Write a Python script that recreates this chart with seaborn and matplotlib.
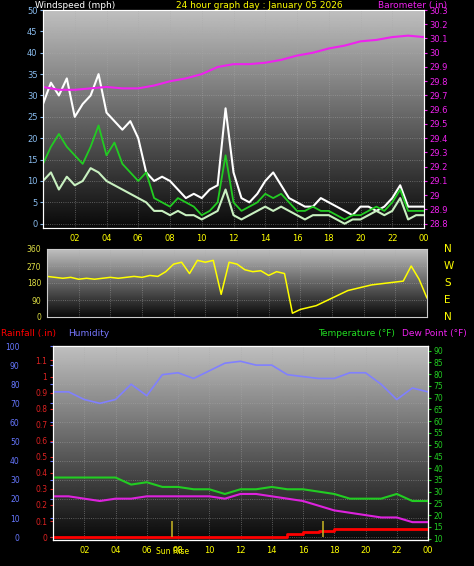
import numpy as np
import pandas as pd
import seaborn as sns
import matplotlib.pyplot as plt

# wind (mph), half-hourly
gust = [28, 33, 30, 34, 25, 28, 30, 35, 26, 24, 22, 24, 20, 12, 10, 11, 10, 8, 6, 7, 6, 8, 9, 27, 12,
        6, 5, 7, 10, 12, 9, 6, 5, 4, 4, 6, 5, 4, 3, 2, 4, 4, 3, 4, 6, 9, 4, 4, 4]
avg = [14, 18, 21, 18, 16, 14, 18, 23, 16, 19, 14, 12, 10, 12, 6, 5, 4, 6, 5, 4, 2, 3, 5, 16, 5,
       3, 4, 5, 7, 6, 7, 5, 3, 3, 4, 3, 3, 2, 1, 2, 2, 3, 4, 3, 5, 8, 3, 3, 3]
speed = [10, 12, 8, 11, 9, 10, 13, 12, 10, 9, 8, 7, 6, 5, 3, 3, 2, 3, 2, 2, 1, 2, 3, 8, 2,
         1, 2, 3, 4, 3, 4, 3, 2, 1, 2, 2, 2, 1, 0, 1, 1, 2, 3, 2, 3, 6, 1, 2, 2]
# barometer (in), hourly
baro = [29.76, 29.74, 29.74, 29.75, 29.76, 29.75, 29.75, 29.77, 29.80, 29.82, 29.85, 29.90, 29.92,
        29.92, 29.93, 29.95, 29.98, 30.00, 30.03, 30.05, 30.08, 30.09, 30.11, 30.12, 30.11]
# wind direction (deg), half-hourly
wdir = [215, 210, 205, 210, 200, 205, 200, 205, 210, 205, 210, 215, 210, 220, 215, 240, 280, 290, 230, 300,
        290, 300, 120, 290, 280, 250, 240, 245, 220, 240, 230, 20, 40, 50, 60, 80, 100, 120, 140, 150,
        160, 170, 175, 180, 185, 190, 270, 200, 100]
# humidity / temperature / dew point / rain, hourly
hum = [76, 76, 72, 70, 72, 80, 74, 85, 86, 83, 87, 91, 92, 90, 90, 85, 84, 83, 83, 86, 86, 80, 72, 78, 76]
temp = [36, 36, 36, 36, 36, 33, 34, 32, 32, 31, 31, 29, 31, 31, 32, 31, 31, 30, 29, 27, 27, 27, 29, 26, 26]
dew = [28, 28, 27, 26, 27, 27, 28, 28, 28, 28, 28, 27, 29, 29, 28, 27, 26, 24, 22, 21, 20, 19, 19, 17, 17]
rain = [0, 0, 0, 0, 0, 0, 0, 0, 0, 0, 0, 0, 0, 0, 0, 0.02, 0.03, 0.04, 0.05, 0.05, 0.05, 0.05, 0.05, 0.05, 0.05]
sunrise, sunset = 7.6, 17.3
hour_labels = ["02", "04", "06", "08", "10", "12", "14", "16", "18", "20", "22", "00"]

sns.set_style("dark")
plt.rcParams['font.family'] = ['DejaVu Sans']
W, H = 474, 566
fig = plt.figure(figsize=(W / 100, H / 100), dpi=100, facecolor="black")


def frame(l, t, r, b):
    return fig.add_axes([l / W, 1 - b / H, (r - l) / W, (b - t) / H])


def style(ax, ticks_x=True):
    grad = np.linspace(1, 0, 256).reshape(-1, 1)
    ax.imshow(grad, aspect="auto", cmap="gray", vmin=-0.05, vmax=1.35,
              extent=[0, 24, *ax.get_ylim()], zorder=0)
    ax.set_xlim(0, 24)
    ax.grid(True, color="#aaaaaa", ls=":", lw=0.6, alpha=0.6)
    ax.set_xticks(range(2, 25, 2))
    if ticks_x:
        ax.set_xticklabels(hour_labels, color="yellow", fontsize=6)
    else:
        ax.set_xticklabels([])
    ax.tick_params(length=2, pad=2)
    for s in ax.spines.values():
        s.set_color("#cccccc")


def line(ax, x, y, color, lw=1.2, drawstyle="default"):
    sns.lineplot(x=x, y=y, ax=ax, color=color, lw=lw, drawstyle=drawstyle, legend=False)


hh = lambda a: np.linspace(0, 24, len(a))

# top: wind + barometer
ax1 = frame(43, 10, 424, 228)
ax1.set_ylim(-1, 50)
style(ax1)
line(ax1, hh(gust), gust, "white", 1.5)
line(ax1, hh(speed), speed, "#c8f0c0", 1.5)
line(ax1, hh(avg), avg, "#22cc22", 1.3)
ax1.set_yticks(range(0, 51, 5))
ax1.tick_params(axis="y", colors="#88bbee", labelsize=6)
ax1.tick_params(axis="x", colors="yellow")
axb = ax1.twinx()
axb.set_ylim(28.77, 30.3)
line(axb, hh(baro), baro, "#ee22ee", 1.5)
axb.set_yticks(np.round(np.arange(28.8, 30.31, 0.1), 1))
axb.set_yticklabels([f"{v:g}" for v in np.round(np.arange(28.8, 30.31, 0.1), 1)])
axb.tick_params(axis="y", colors="#ee22ee", labelsize=6, length=2, pad=2)
axb.set_ylabel("")
fig.text(35 / W, 1 - 8 / H, "Windspeed (mph)", color="white", fontsize=6.5)
fig.text(176 / W, 1 - 8 / H, "24 hour graph day : January 05 2026", color="yellow", fontsize=6.5)
fig.text(378 / W, 1 - 8 / H, "Barometer (.in)", color="#ee22ee", fontsize=6.5)

# middle: wind direction
ax2 = frame(47, 249, 427, 317)
ax2.set_ylim(0, 360)
style(ax2, ticks_x=False)
line(ax2, hh(wdir), wdir, "yellow", 1.1)
ax2.set_yticks([0, 90, 180, 270, 360])
ax2.tick_params(axis="y", colors="#dddd44", labelsize=5.5)
for v, lab in zip([360, 270, 180, 90, 0], ["N", "W", "S", "E", "N"]):
    ax2.text(1.045, v / 360, lab, transform=ax2.transAxes, color="yellow", fontsize=7.5, va="center")

# bottom: humidity, rain, temperature
ax3 = frame(53, 346, 428, 540)
ax3.set_ylim(-1.5, 100)
style(ax3)
line(ax3, hh(hum), hum, "#8080ff", 1.2)
ax3.set_yticks(range(0, 101, 10))
ax3.tick_params(axis="y", colors="#6677ff", labelsize=5.5, pad=22)
ax3.spines["left"].set_visible(False)
axr = ax3.twinx()
axr.set_ylim(-0.018, 1.19)
axr.yaxis.tick_left()
axr.set_yticks(np.round(np.arange(0, 1.11, 0.1), 1))
axr.set_yticklabels([f"{v:g}" for v in np.round(np.arange(0, 1.11, 0.1), 1)])
axr.tick_params(axis="y", colors="#dd2222", labelsize=5.5, length=2, pad=2)
line(axr, hh(rain), rain, "red", 2, drawstyle="steps-post")
axr.vlines([sunrise, sunset], 0, 0.1, color="#bbaa22", lw=1.2)
axr.set_ylabel("")
axt = ax3.twinx()
axt.set_ylim(9.4, 92)
line(axt, hh(temp), temp, "#22cc22", 1.5)
line(axt, hh(dew), dew, "#dd22dd", 1.5)
axt.set_yticks(range(10, 91, 5))
axt.tick_params(axis="y", colors="#22cc22", labelsize=5.5, length=2, pad=2)
axt.set_ylabel("")
fig.text(156 / W, 1 - 554 / H, "Sun Rise", color="yellow", fontsize=5.5)
fig.text(1 / W, 1 - 336 / H, "Rainfall (.in)", color="red", fontsize=6.5)
fig.text(68 / W, 1 - 336 / H, "Humidity", color="#7777ff", fontsize=6.5)
fig.text(318 / W, 1 - 336 / H, "Temperature (°F)", color="#22dd22", fontsize=6.5)
fig.text(402 / W, 1 - 336 / H, "Dew Point (°F)", color="#ee22ee", fontsize=6.5)

fig.savefig("out.png", dpi=100, facecolor="black")
